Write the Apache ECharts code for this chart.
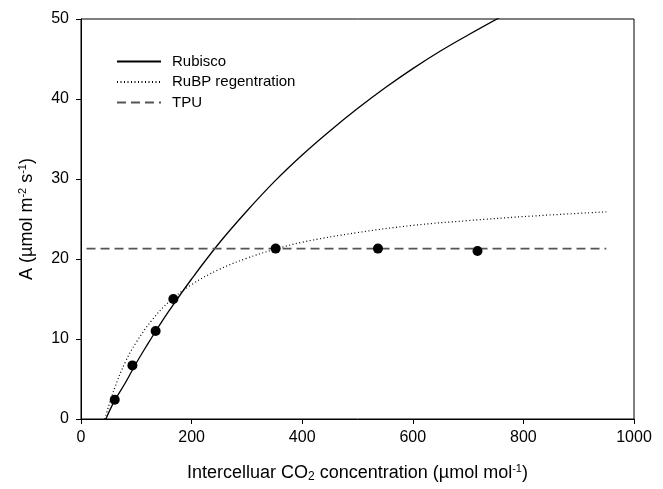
<!DOCTYPE html>
<html><head><meta charset="utf-8">
<script src="https://cdn.jsdelivr.net/npm/echarts@6/dist/echarts.min.js"></script>
<style>html,body{margin:0;padding:0;background:#fff}#c{width:663px;height:489px}</style>
</head><body><div id="c"></div>
<script>
// Data
const rubiscoX = [45, 60, 80, 100, 120, 140, 160, 200, 250, 300, 350, 400, 450, 500, 550, 600, 650, 700, 760];
const rubiscoY = [0, 2.2, 4.5, 7.0, 9.3, 11.5, 13.6, 17.5, 22.0, 26.0, 29.7, 33.0, 36.0, 38.8, 41.4, 43.8, 46.0, 48.0, 50.3];
const rubpX = [43, 60, 80, 100, 130, 160, 200, 250, 300, 350, 400, 500, 600, 700, 800, 950];
const rubpY = [0, 3.7, 7.1, 9.6, 12.5, 14.7, 16.8, 18.7, 20.1, 21.2, 22.1, 23.3, 24.2, 24.8, 25.3, 25.9];
const tpuX = [10, 950];
const tpuY = [21.3, 21.3];
const obsX = [61, 93, 135, 167, 352, 537, 717];
const obsY = [2.4, 6.7, 11.0, 15.0, 21.3, 21.3, 21.0];
const xTicks = [0, 200, 400, 600, 800, 1000];
const yTicks = [0, 10, 20, 30, 40, 50];
const seriesNames = ['Rubisco', 'RuBP regentration', 'TPU'];

const zip = (a, b) => a.map((v, i) => [v, b[i]]);
const font = 'Liberation Sans, Arial, sans-serif';
const txt = '#000';

const chart = echarts.init(document.getElementById('c'), null, {renderer: 'canvas'});
chart.setOption({
  animation: false,
  backgroundColor: '#fff',
  grid: {left: 81, right: 29, top: 19, bottom: 70, show: true, borderColor: '#000', borderWidth: 1, backgroundColor: 'transparent'},
  legend: {
    orient: 'vertical', left: 116, top: 54, padding: 0, itemWidth: 44, itemHeight: 14, itemGap: 5.5,
    data: seriesNames,
    itemStyle: {opacity: 0},
    textStyle: {fontFamily: font, fontSize: 15, color: txt, padding: [0, 0, 0, 6]}
  },
  xAxis: {
    type: 'value', min: xTicks[0], max: xTicks[xTicks.length - 1], interval: 200,
    name: 'Intercelluar CO{sub|2} concentration (µmol mol{sup|-1})',
    nameLocation: 'middle', nameGap: 44,
    nameTextStyle: {fontFamily: font, fontSize: 18, color: txt, rich: {
      sub: {fontSize: 12, fontFamily: font, color: txt, padding: [8, 0, 0, 0]},
      sup: {fontSize: 11, fontFamily: font, color: txt, padding: [0, 0, 9, 0]}
    }},
    axisLine: {show: true, onZero: false, lineStyle: {color: '#000', width: 1}},
    axisTick: {show: true, inside: false, length: 5, lineStyle: {color: '#000'}},
    axisLabel: {fontFamily: font, fontSize: 16, color: txt, margin: 11, formatter: v => String(v)},
    splitLine: {show: false}
  },
  yAxis: {
    type: 'value', min: yTicks[0], max: yTicks[yTicks.length - 1], interval: 10,
    name: 'A (µmol m{sup|-2} s{sup|-1})',
    nameLocation: 'middle', nameGap: 44,
    nameTextStyle: {fontFamily: font, fontSize: 18, color: txt, rich: {
      sup: {fontSize: 11, fontFamily: font, color: txt, padding: [0, 0, 9, 0]}
    }},
    axisLine: {show: true, onZero: false, lineStyle: {color: '#000', width: 1}},
    axisTick: {show: true, inside: false, length: 5, lineStyle: {color: '#000'}},
    axisLabel: {fontFamily: font, fontSize: 16, color: txt, margin: 12, formatter: v => String(v)},
    splitLine: {show: false}
  },
  series: [
    {name: seriesNames[0], type: 'line', data: zip(rubiscoX, rubiscoY), smooth: 0.4, symbol: 'none',
     clip: true, lineStyle: {color: '#000', width: 1.3, type: 'solid'}, itemStyle: {color: '#000'}},
    {name: seriesNames[1], type: 'line', data: zip(rubpX, rubpY), smooth: 0.4, symbol: 'none',
     lineStyle: {color: '#000', width: 1.2, type: [1, 2.5]}, itemStyle: {color: '#000'}},
    {name: seriesNames[2], type: 'line', data: zip(tpuX, tpuY), symbol: 'none',
     lineStyle: {color: '#555', width: 1.8, type: [9, 5]}, itemStyle: {color: '#555'}},
    {name: 'obs', type: 'scatter', data: zip(obsX, obsY), symbol: 'circle', symbolSize: 10,
     itemStyle: {color: '#000', opacity: 1}, z: 5}
  ]
});
</script></body></html>
